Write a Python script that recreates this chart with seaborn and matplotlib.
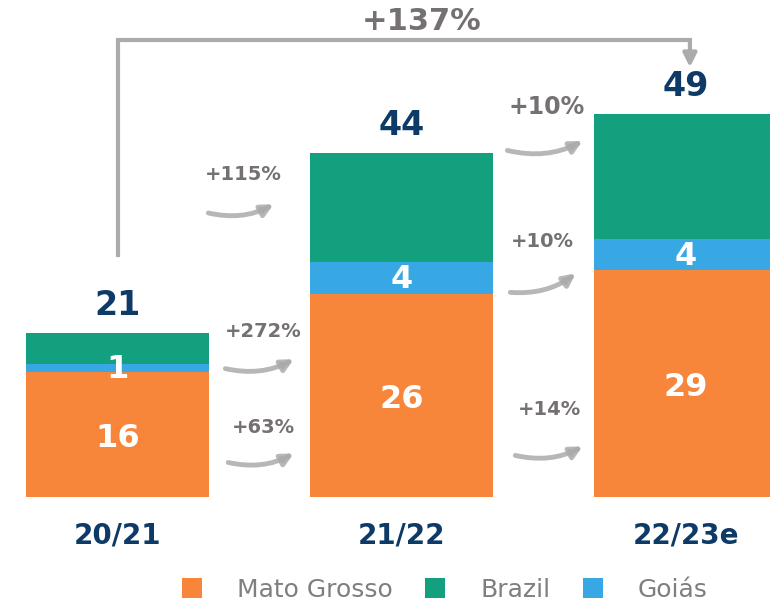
import pandas as pd
import seaborn as sns
import matplotlib.pyplot as plt
import numpy as np

if __name__ == '__main__':

    data = pd.DataFrame({'season': ['20/21', '21/22', '22/23e'],
                         'Mato Grosso': [16, 26, 29],
                         'Goias': [1, 4, 4],
                         'Brazil': [4, 14, 16]})
    data['MT_GO'] = data['Mato Grosso'] + data['Goias']
    data['Total'] = data['MT_GO'] + data['Brazil']

    orange = '#F7853A'
    green = '#13A07F'
    blue = '#38A8E4'
    navy = '#0D3A66'
    grey_txt = '#767171'
    grey_arrow = '#ABABAB'

    plt.figure(figsize = (7.7, 6.03), dpi=100)
    ax = plt.axes([0, 0, 1, 1])
    # stacked bars: draw cumulative heights, biggest first
    sns.barplot(data=data, x='season', y='Total', color=green, saturation=1, width=0.644, linewidth=0, label='Brazil')
    sns.barplot(data=data, x='season', y='MT_GO', color=blue, saturation=1, width=0.644, linewidth=0, label='Goiás')
    sns.barplot(data=data, x='season', y='Mato Grosso', color=orange, saturation=1, width=0.644, linewidth=0, label='Mato Grosso')

    plt.xlim(-0.415, 2.296)
    plt.ylim(-13.55, 63.55)
    plt.axis('off')

    for i, row in data.iterrows():
        plt.text(i, row['Mato Grosso'] / 2 - 0.5, str(row['Mato Grosso']), ha='center', va='center',
                 color='white', fontsize=23, fontweight='bold')
        plt.text(i, row['Mato Grosso'] + row['Goias'] / 2 - 0.2, str(row['Goias']), ha='center', va='center',
                 color='white', fontsize=23, fontweight='bold')
        plt.text(i, row['Total'] + 1.4, str(row['Total']), ha='center', va='bottom',
                 color=navy, fontsize=24, fontweight='bold')
        plt.text(i, -4.9, row['season'], ha='center', va='center',
                 color=navy, fontsize=20, fontweight='bold')

    # growth arrows between the bars
    growth = [('+115%', (0.443, 41.2), (0.309, 36.4), (0.557, 37.6), 14),
              ('+272%', (0.511, 21.2), (0.369, 16.5), (0.628, 17.8), 14),
              ('+63%', (0.511, 8.95), (0.379, 4.5), (0.628, 5.75), 14),
              ('+10%', (1.511, 49.9), (1.362, 44.4), (1.645, 45.7), 17),
              ('+10%', (1.496, 32.7), (1.372, 26.2), (1.62, 28.8), 14),
              ('+14%', (1.518, 11.25), (1.39, 5.4), (1.645, 6.65), 14)]
    for label, pos, start, end, size in growth:
        plt.text(pos[0], pos[1], label, ha='center', va='center', color=grey_txt,
                 fontsize=size, fontweight='bold')
        plt.annotate('', xy=end, xytext=start,
                     arrowprops=dict(arrowstyle='-|>,head_length=0.7,head_width=0.35',
                                     connectionstyle='arc3,rad=0.2', color=grey_arrow,
                                     lw=3.5, alpha=0.85))

    # overall growth bracket
    plt.plot([0, 0, 2.014], [30.9, 58.4, 58.4], color=grey_arrow, lw=3, solid_joinstyle='miter')
    plt.annotate('', xy=(2.014, 54.6), xytext=(2.014, 58.6),
                 arrowprops=dict(arrowstyle='-|>,head_length=0.8,head_width=0.4', color=grey_arrow, lw=3))
    plt.text(1.07, 60.8, '+137%', ha='center', va='center', color=grey_txt, fontsize=22, fontweight='bold')

    handles, labels = ax.get_legend_handles_labels()
    order = [2, 0, 1]
    plt.legend([handles[k] for k in order], [labels[k] for k in order], loc='center',
               bbox_to_anchor=(0.578, 0.022), ncol=3, frameon=False, fontsize=18,
               labelcolor='#7F7F7F', handlelength=0.8, handleheight=0.8,
               handletextpad=1.4, columnspacing=1.3)

    plt.savefig('out.png')
